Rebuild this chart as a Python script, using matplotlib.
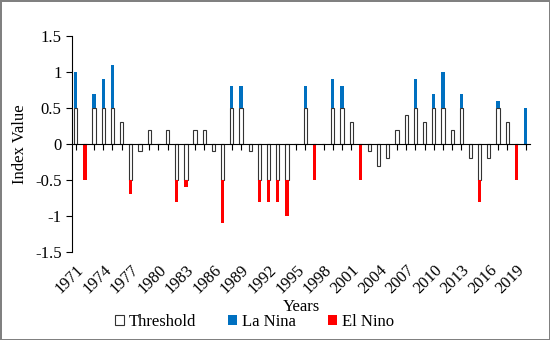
import numpy as np
import matplotlib
matplotlib.use("Agg")
import matplotlib.pyplot as plt

plt.rcParams['font.family'] = ['Liberation Serif', 'DejaVu Serif']
plt.rcParams['axes.unicode_minus'] = False

years = list(range(1971, 2021))
# stacked segments as in the source spreadsheet
threshold = [0.5, 0, 0.5, 0.5, 0.5, 0.3, -0.5, -0.1, 0.2, 0,
             0.2, -0.5, -0.5, 0.2, 0.2, -0.1, -0.5, 0.5, 0.5, -0.1,
             -0.5, -0.5, -0.5, -0.5, 0, 0.5, 0, 0, 0.5, 0.5,
             0.3, 0, -0.1, -0.3, -0.2, 0.2, 0.4, 0.5, 0.3, 0.5,
             0.5, 0.2, 0.5, -0.2, -0.5, -0.2, 0.5, 0.3, 0, 0]
la_nina = [0.5, 0, 0.2, 0.4, 0.6, 0, 0, 0, 0, 0,
           0, 0, 0, 0, 0, 0, 0, 0.3, 0.3, 0,
           0, 0, 0, 0, 0, 0.3, 0, 0, 0.4, 0.3,
           0, 0, 0, 0, 0, 0, 0, 0.4, 0, 0.2,
           0.5, 0, 0.2, 0, 0, 0, 0.1, 0, 0, 0.5]
el_nino = [0, -0.5, 0, 0, 0, 0, -0.2, 0, 0, 0,
           0, -0.3, -0.1, 0, 0, 0, -0.6, 0, 0, 0,
           -0.3, -0.3, -0.3, -0.5, 0, 0, -0.5, 0, 0, 0,
           0, -0.5, 0, 0, 0, 0, 0, 0, 0, 0,
           0, 0, 0, 0, -0.3, 0, 0, 0, -0.5, 0]

x = np.arange(len(years))
thr = np.array(threshold)
w = 0.35
fs = 12

fig = plt.figure(figsize=(5.5, 3.4), dpi=100)
ax = fig.add_axes([0.131, 0.259, 0.833, 0.635])

ax.bar(x, thr, width=w, color='white', edgecolor='#333333', linewidth=0.8, label='Threshold', zorder=2)
ax.bar(x, la_nina, width=w, bottom=np.where(thr > 0, thr, 0), color='#0070C0', label='La Nina', zorder=2)
ax.bar(x, el_nino, width=w, bottom=np.where(thr < 0, thr, 0), color='#FF0000', label='El Nino', zorder=2)

ax.set_xlim(-0.4, 49.5)
ax.set_ylim(-1.5, 1.5)
ax.set_yticks(np.arange(-1.5, 1.51, 0.5))
ax.set_yticklabels(['{:g}'.format(v) for v in np.arange(-1.5, 1.51, 0.5)], fontsize=fs)
ax.set_ylabel('Index Value', fontsize=fs, labelpad=5)

for s in ['top', 'right']:
    ax.spines[s].set_visible(False)
ax.spines['bottom'].set_position(('data', 0))
ax.set_xticks(x)
ax.set_xticklabels([])
ax.tick_params(axis='x', length=4, width=0.8, direction='out')
ax.tick_params(axis='y', length=4, width=0.8, direction='out')

sec = ax.secondary_xaxis('bottom')
sec.spines['bottom'].set_visible(False)
sec.set_xticks(x[::3])
sec.set_xticklabels([str(y) for y in years[::3]], rotation=45, ha='right',
                    va='top', rotation_mode='anchor', fontsize=fs)
sec.tick_params(length=0, pad=7)
sec.set_xlabel('Years', fontsize=fs, labelpad=2)

leg = fig.legend(loc='lower center', bbox_to_anchor=(0.463, -0.015), ncol=3, frameon=False,
                 fontsize=fs, handlelength=0.55, handleheight=0.55, columnspacing=1.9,
                 handletextpad=0.3)

fig.patch.set_edgecolor('#808080')
fig.patch.set_linewidth(2)
fig.savefig('out.png', dpi=100, edgecolor=fig.patch.get_edgecolor())
